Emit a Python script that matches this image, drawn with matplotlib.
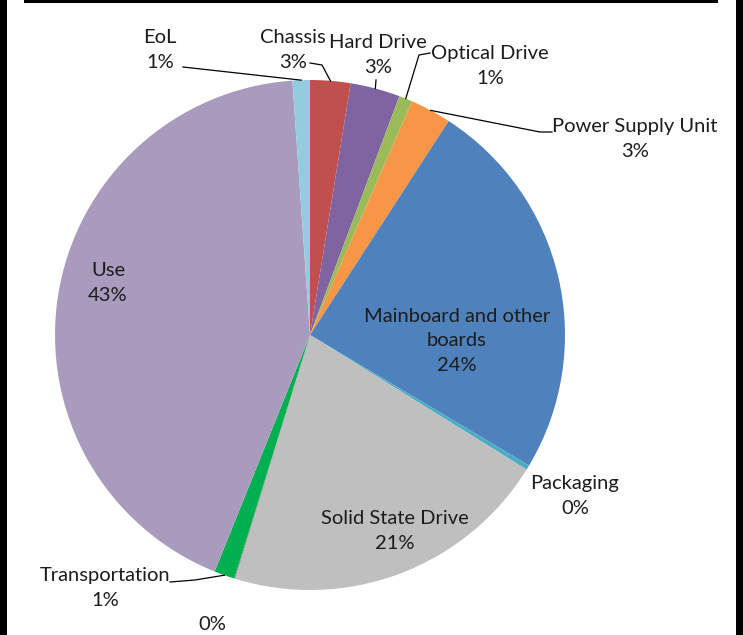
import matplotlib
matplotlib.use('Agg')
import matplotlib.pyplot as plt
from matplotlib.patches import Rectangle
import numpy as np

# slices, clockwise from 12 o'clock
names = ['Chassis', 'Hard Drive', 'Optical Drive', 'Power Supply Unit',
         'Mainboard and other\nboards', 'Packaging', 'Solid State Drive', '',
         'Transportation', 'Use', 'EoL']
shares = [2.55, 3.15, 0.85, 2.6, 24.4, 0.3, 20.9, 0.05, 1.3, 42.8, 1.1]
colors = ['#C0504D', '#8064A2', '#9BBB59', '#F79646', '#4F81BD', '#4BACC6',
          '#BFBFBF', '#7F7F7F', '#00B050', '#A99BBD', '#93CDDD']

W, H = 743, 635
CX, CY, R = 310, 335, 255   # pie centre / radius in pixels


def px(x, y):
    # pixel position -> data coords (pie radius = 1)
    return (x - CX) / R, (CY - y) / R


# label block centres (pixels) and optional leader elbows
label_pos = [(293, 50), (378, 55), (490, 66), (635, 139), (457, 341),
             (575, 496), (395, 531), (212, 625), (105, 588), (108, 283),
             (160, 50)]
leaders = {0: [(310, 63), (322, 65)],
           1: [(376, 80)],
           2: [(430, 53), (419, 55)],
           3: [(552, 132), (540, 132)],
           8: [(170, 582), (195, 580)],
           10: [(183, 67)]}

fig = plt.figure(figsize=(W / 100, H / 100), dpi=100)
ax = fig.add_axes([0, 0, 1, 1])

wedges, _ = ax.pie(shares, colors=colors, startangle=90, counterclock=False,
                   radius=1, center=(0, 0), frame=True,
                   wedgeprops=dict(linewidth=0))
ax.set_xlim(-CX / R, (W - CX) / R)
ax.set_ylim(-(H - CY) / R, CY / R)
ax.set_aspect('auto')
ax.axis('off')

txt_color = '#1c1c1c'
for i, w in enumerate(wedges):
    label = f"{shares[i]:.0f}%"
    if names[i]:
        label = names[i] + '\n' + label
    lx, ly = px(*label_pos[i])
    ax.text(lx, ly, label, ha='center', va='center', fontsize=14.5,
            family='Lato', color=txt_color, linespacing=1.55)
    if i in leaders:
        mid = np.deg2rad((w.theta1 + w.theta2) / 2)
        pts = [px(*p) for p in leaders[i]] + [(np.cos(mid), np.sin(mid))]
        xs, ys = zip(*pts)
        ax.plot(xs, ys, color='#000000', lw=0.9)

# black frame bits from the screenshot
for x, y, w, h in [(0, 0, 7, H), (736, 0, 7, H), (24, 0, 694, 3)]:
    fig.add_artist(Rectangle((x / W, 1 - (y + h) / H), w / W, h / H,
                             transform=fig.transFigure, color='black', lw=0))

fig.savefig('out.png', dpi=100, facecolor='white')
